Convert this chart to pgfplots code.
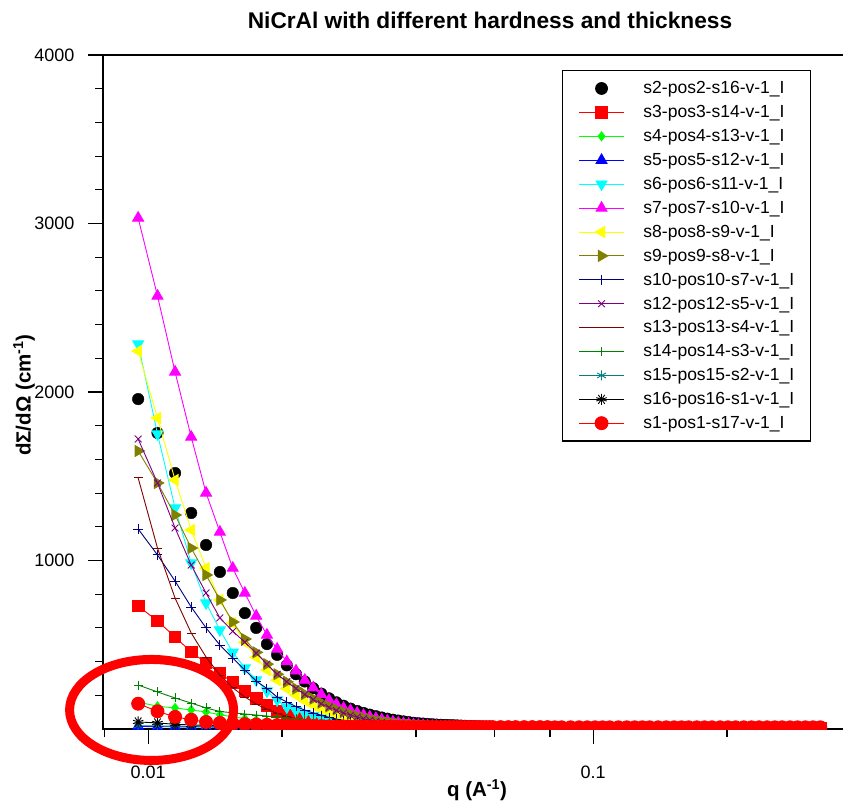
\documentclass[border=0pt]{standalone}
\usepackage{pgfplots}
\pgfplotsset{compat=1.18}
\usepackage{pgfplotstable}
\usepackage{fontspec}
\setmainfont{Liberation Sans}
\usetikzlibrary{plotmarks}

\definecolor{mred}{RGB}{255,0,0}
\definecolor{mgreen}{RGB}{0,255,0}
\definecolor{mblue}{RGB}{0,0,255}
\definecolor{mcyan}{RGB}{0,255,255}
\definecolor{mmagenta}{RGB}{255,0,255}
\definecolor{myellow}{RGB}{255,255,0}
\definecolor{molive}{RGB}{128,128,0}
\definecolor{mnavy}{RGB}{0,0,128}
\definecolor{mpurple}{RGB}{128,0,128}
\definecolor{mwine}{RGB}{128,0,0}
\definecolor{mdgreen}{RGB}{0,128,0}
\definecolor{mteal}{RGB}{0,128,128}

\pgfplotstableread{
q s2 s3 s4 s5 s6 s7 s8 s9 s10 s12 s13 s14 s15 s16 s1
0.0095 1958 730 160 15 2285 3033 2243 1650 1187 1721 1490 261 20 42 150
0.0105 1757 641 135 14 1751 2570 1846 1460 1033 1460 1074 220 18 36 105
0.0115 1519 546 125 13 1312 2119 1478 1270 878 1193 777 184 17 28 72
0.0125 1282 457 113 12 985 1733 1181 1074 724 973 570 154 16 24 55
0.0135 1092 392 101 12 748 1401 955 914 600 807 427 125 15 22 42
0.0145 932 332 85 11 588 1169 766 766 498 659 320 104 14 20 36
0.0155 807 275 72 10 455 955 629 635 421 580 245 96 13 19 32
0.0165 688 225 62 10 362 807 515 534 350 515 190 89 12 18 29
0.0175 600 180 53 9 291 671 425 455 285 450 148 83 12 17 27
0.0185 504 140 46 9 225 558 350 385 240 385 117 77 11 16 25
0.0195 440 105 40 8 172 475 290 325 190 325 93 71 11 15 23
0.0205 378 80 35 8 130 400 240 280 160 280 75 65 10 15 21
0.0215 325 62 31 8 108 345 200 240 133 240 60 60 10 14 20
0.0225 282 48 28 7 92 290 167 208 112 205 49 55 9 14 19
0.0235 242 38 25 7 79 245 140 180 95 175 40 50 9 13 18
0.0245 210 31 22 7 68 205 118 156 81 150 33 46 9 13 17
0.0255 182 26 20 7 59 172 100 135 69 128 28 42 8 12 16
0.0265 158 22 18 6 51 146 85 117 59 110 24 39 8 12 15
0.0275 138 19 16 6 44 124 72 101 51 95 21 36 8 11 15
0.0285 121 17 15 6 38 110 62 88 44 82 18 33 8 11 14
0.0295 107 15 14 6 33 95 53 76 38 71 16 31 7 11 14
0.0305 95 14 13 6 29 82 46 66 33 61 14 29 7 10 13
0.0315 85 13 12 6 25 72 40 57 29 53 13 27 7 10 13
0.0325 76 12 11 5 22 63 35 50 26 46 12 25 7 10 12
0.0335 68 11 10 5 20 55 31 44 23 40 11 23 7 10 12
0.0345 61 10 10 5 18 48 27 39 21 35 10 22 6 9 12
0.0355 55 10 9 5 16 42 24 34 19 31 9 20 6 9 12
0.0365 50 9 9 5 15 37 22 30 17 27 9 19 6 9 12
0.0375 45 9 8 5 14 33 20 27 15 24 8 18 6 9 11
0.0385 41 8 8 5 13 29 18 24 14 22 8 17 6 9 11
0.0395 37 8 8 5 12 26 16 22 13 20 7 16 6 8 11
0.0405 34 8 7 5 11 23 15 20 12 18 7 15 6 8 11
0.0415 32 7 7 4 10 21 14 18 11 16 7 14 5 8 11
0.0425 30 7 7 4 10 19 13 17 10 15 6 14 5 8 11
0.0435 28 7 6 4 9 17 12 16 10 14 6 13 5 8 11
0.0445 26 7 6 4 9 16 11 15 9 13 6 12 5 8 11
0.0455 25 6 6 4 8 15 11 14 9 12 6 12 5 7 11
0.0465 24 6 6 4 8 14 10 13 8 11 5 11 5 7 11
0.0475 23 6 6 4 8 13 10 12 8 11 5 11 5 7 11
0.0485 22 6 5 4 7 12 9 12 8 10 5 10 5 7 11
0.0495 21 6 5 4 7 12 9 11 7 10 5 10 5 7 11
0.0505 20 6 5 4 7 11 9 11 7 9 5 10 5 7 11
0.0515 19 5 5 4 7 11 8 10 7 9 5 9 5 7 11
0.0525 18 5 5 4 6 10 8 10 7 9 4 9 4 6 11
0.0535 17 5 5 4 6 10 8 10 6 8 4 9 4 6 11
0.0545 16 5 5 4 6 9 8 9 6 8 4 8 4 6 11
0.0555 15 5 5 3 6 9 7 9 6 8 4 8 4 6 11
0.0565 14 5 5 3 6 8 7 9 6 8 4 8 4 6 11
0.0575 13 5 4 3 5 8 7 8 6 7 4 8 4 6 11
0.0585 13 5 4 3 5 8 7 8 6 7 4 7 4 6 11
0.0595 12 5 4 3 5 7 6 8 5 7 4 7 4 6 11
0.062 11 5 4 3 5 7 6 7 5 6 4 6 4 6 11
0.0645 11 5 4 3 5 7 6 7 5 6 4 6 4 6 11
0.067 11 5 4 3 5 7 6 7 5 6 4 6 4 6 11
0.070 11 5 4 3 5 7 6 7 5 6 4 6 4 6 11
0.073 11 5 4 3 5 7 6 7 5 6 4 6 4 6 11
0.076 10 5 4 3 5 7 6 7 5 6 4 6 4 6 11
0.079 10 5 4 3 5 7 6 7 5 6 4 6 4 6 11
0.082 10 4 4 3 4 6 6 6 5 6 3 6 4 5 10
0.085 10 4 4 3 4 6 6 6 5 6 3 6 4 5 10
0.089 10 4 4 3 4 6 6 6 5 6 3 6 4 5 10
0.093 10 4 4 3 4 6 6 6 5 6 3 6 4 5 10
0.097 10 4 4 3 4 6 6 6 5 6 3 6 4 5 10
0.101 9 4 4 3 4 6 6 6 5 6 3 6 4 5 10
0.105 9 4 4 3 4 6 6 6 5 6 3 6 4 5 10
0.109 9 4 3 3 4 5 5 6 4 5 3 5 3 5 10
0.114 9 4 3 3 4 5 5 6 4 5 3 5 3 5 10
0.119 9 4 3 3 4 5 5 6 4 5 3 5 3 5 10
0.124 9 4 3 3 4 5 5 6 4 5 3 5 3 5 10
0.129 9 4 3 3 4 5 5 6 4 5 3 5 3 5 10
0.134 8 4 3 3 4 5 5 6 4 5 3 5 3 5 10
0.140 8 4 3 3 4 5 5 6 4 5 3 5 3 5 10
0.146 8 4 3 2 4 5 5 5 4 5 3 5 3 4 10
0.152 8 4 3 2 4 5 5 5 4 5 3 5 3 4 10
0.158 8 4 3 2 4 5 5 5 4 5 3 5 3 4 10
0.164 8 4 3 2 4 5 5 5 4 5 3 5 3 4 10
0.171 8 4 3 2 4 5 5 5 4 5 3 5 3 4 10
0.178 7 4 3 2 4 5 5 5 4 5 3 5 3 4 10
0.185 7 4 3 2 4 5 5 5 4 5 3 5 3 4 10
0.193 7 3 3 2 3 4 4 5 3 4 2 4 3 4 10
0.201 7 3 3 2 3 4 4 5 3 4 2 4 3 4 10
0.209 7 3 3 2 3 4 4 5 3 4 2 4 3 4 10
0.218 7 3 3 2 3 4 4 5 3 4 2 4 3 4 10
0.227 7 3 3 2 3 4 4 5 3 4 2 4 3 4 10
0.236 6 3 3 2 3 4 4 5 3 4 2 4 3 4 10
0.246 6 3 3 2 3 4 4 5 3 4 2 4 3 4 10
0.256 6 3 2 2 3 4 4 4 3 4 2 4 2 3 10
0.266 6 3 2 2 3 4 4 4 3 4 2 4 2 3 10
0.277 6 3 2 2 3 4 4 4 3 4 2 4 2 3 10
0.288 6 3 2 2 3 4 4 4 3 4 2 4 2 3 10
0.300 6 3 2 2 3 4 4 4 3 4 2 4 2 3 10
0.312 6 3 2 2 3 4 4 4 3 4 2 4 2 3 10
0.324 6 3 2 2 3 4 4 4 3 4 2 4 2 3 10
}\data

\begin{document}
\begin{tikzpicture}
\useasboundingbox (-103bp,-72bp) rectangle (740bp,729bp);
\begin{axis}[
  at={(0,0)}, anchor=south west,
  width=750bp, height=674bp, scale only axis,
  xmode=log, xmin=0.007921, xmax=0.3838,
  ymin=0, ymax=4000,
  xtick={0.01,0.1}, xticklabels={0.01,0.1},
  minor xtick={0.008,0.02,0.04,0.06,0.08,0.2},
  ytick={1000,2000,3000,4000}, yticklabels={1000,2000,3000,4000},
  minor ytick={200,400,600,800,1200,1400,1600,1800,2200,2400,2600,2800,3200,3400,3600,3800},
  xtick pos=left, ytick pos=left,
  tick align=outside,
  major tick length=15bp, minor tick length=8bp,
  tick style={black, line width=1.1bp},
  axis line style={black, line width=1.2bp},
  tick label style={font=\fontsize{18bp}{20bp}\selectfont},
  xticklabel style={yshift=-18bp},
  yticklabel style={xshift=-10bp},
  clip marker paths=true,
  title={NiCrAl with different hardness and thickness},
  title style={font=\bfseries\fontsize{22.7bp}{26bp}\selectfont, at={(axis description cs:0.516,1.0304)}, anchor=base},
  xlabel={q (A\textsuperscript{-1})},
  xlabel style={font=\bfseries\fontsize{20.5bp}{24bp}\selectfont, at={(axis description cs:0.4987,-0.0905)}, anchor=center},
  ylabel={dΣ/dΩ (cm\textsuperscript{-1})},
  ylabel style={font=\bfseries\fontsize{20.5bp}{24bp}\selectfont, at={(axis description cs:-0.1053,0.4955)}, anchor=center},
  legend image code/.code={\draw[mark repeat=2,mark phase=2,#1] plot coordinates {(0bp,0bp) (22.5bp,0bp) (45bp,0bp)};},
  legend cell align=left,
  legend style={at={(axis description cs:0.612,0.9777)}, anchor=north west,
    draw=black, line width=1.2bp,
    font=\fontsize{17.5bp}{20bp}\selectfont,
    inner xsep=16bp, inner ysep=11bp, row sep=10.2bp,
    nodes={inner xsep=0bp, inner ysep=0bp},
    /tikz/every odd column/.append style={column sep=19bp}},
]
\addplot[only marks, black, mark=*, mark size=5.8bp] table[x=q,y=s2]{\data};
\addlegendentry{s2-pos2-s16-v-1\_I}
\addplot[mred, line width=0.9bp, mark=square*, mark size=5.8bp] table[x=q,y=s3]{\data};
\addlegendentry{s3-pos3-s14-v-1\_I}
\addplot[mgreen, line width=0.9bp, mark=diamond*, mark size=4.5bp] table[x=q,y=s4]{\data};
\addlegendentry{s4-pos4-s13-v-1\_I}
\addplot[mblue, line width=0.9bp, mark=triangle*, mark size=6.3bp] table[x=q,y=s5]{\data};
\addlegendentry{s5-pos5-s12-v-1\_I}
\addplot[mcyan, line width=0.9bp, mark=triangle*, mark size=6.3bp, mark options={rotate=180}] table[x=q,y=s6]{\data};
\addlegendentry{s6-pos6-s11-v-1\_I}
\addplot[mmagenta, line width=0.9bp, mark=triangle*, mark size=6.3bp] table[x=q,y=s7]{\data};
\addlegendentry{s7-pos7-s10-v-1\_I}
\addplot[myellow, line width=0.9bp, mark=triangle*, mark size=6.3bp, mark options={rotate=90}] table[x=q,y=s8]{\data};
\addlegendentry{s8-pos8-s9-v-1\_I}
\addplot[molive, line width=0.9bp, mark=triangle*, mark size=6.3bp, mark options={rotate=-90}] table[x=q,y=s9]{\data};
\addlegendentry{s9-pos9-s8-v-1\_I}
\addplot[mnavy, line width=0.9bp, mark=+, mark size=4.8bp] table[x=q,y=s10]{\data};
\addlegendentry{s10-pos10-s7-v-1\_I}
\addplot[mpurple, line width=0.9bp, mark=x, mark size=4.8bp] table[x=q,y=s12]{\data};
\addlegendentry{s12-pos12-s5-v-1\_I}
\addplot[mwine, line width=0.9bp, mark=-, mark size=4.5bp] table[x=q,y=s13]{\data};
\addlegendentry{s13-pos13-s4-v-1\_I}
\addplot[mdgreen, line width=0.9bp, mark=+, mark size=4.5bp] table[x=q,y=s14]{\data};
\addlegendentry{s14-pos14-s3-v-1\_I}
\addplot[mteal, line width=0.9bp, mark=asterisk, mark size=5bp] table[x=q,y=s15]{\data};
\addlegendentry{s15-pos15-s2-v-1\_I}
\addplot[black, line width=0.9bp, mark=10-pointed star, mark size=5.5bp, mark options={fill=black}] table[x=q,y=s16]{\data};
\addlegendentry{s16-pos16-s1-v-1\_I}
\addplot[mred, line width=0.9bp, mark=*, mark size=6.5bp] table[x=q,y=s1]{\data};
\addlegendentry{s1-pos1-s17-v-1\_I}
\coordinate (E) at (axis cs:0.010183,113);
\end{axis}
\draw[mred, line width=9bp] (E) ellipse [x radius=82bp, y radius=50.5bp];
\end{tikzpicture}
\end{document}
